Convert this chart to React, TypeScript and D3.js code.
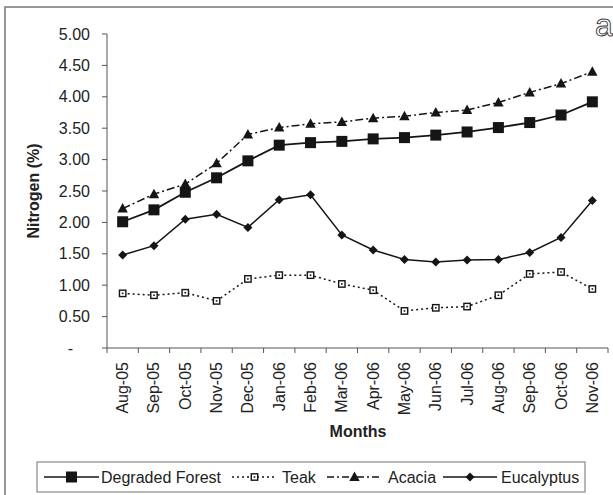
import React from "react";
import * as d3 from "d3";

const months = ["Aug-05","Sep-05","Oct-05","Nov-05","Dec-05","Jan-06","Feb-06","Mar-06","Apr-06","May-06","Jun-06","Jul-06","Aug-06","Sep-06","Oct-06","Nov-06"];
const degradedForest = [2.01,2.20,2.48,2.71,2.98,3.23,3.27,3.29,3.33,3.35,3.39,3.44,3.51,3.59,3.71,3.92];
const teak = [0.87,0.84,0.88,0.75,1.10,1.16,1.16,1.02,0.92,0.59,0.64,0.66,0.84,1.18,1.21,0.94];
const acacia = [2.22,2.45,2.61,2.94,3.40,3.51,3.57,3.60,3.66,3.69,3.75,3.79,3.91,4.07,4.21,4.40];
const eucalyptus = [1.48,1.63,2.05,2.13,1.92,2.36,2.44,1.80,1.56,1.41,1.37,1.40,1.41,1.52,1.76,2.35];
const yTicks = [0,0.5,1,1.5,2,2.5,3,3.5,4,4.5,5];
const seriesNames = ["Degraded Forest","Teak","Acacia","Eucalyptus"];

const FONT = "Arial, 'Liberation Sans', sans-serif";
const INK = "#151515";

type Kind = "square" | "open" | "triangle" | "diamond";

function Marker({ kind, x, y }: { kind: Kind; x: number; y: number }) {
  if (kind === "square") return <rect x={x - 5.5} y={y - 5.5} width={11} height={11} fill={INK} />;
  if (kind === "open")
    return (
      <g>
        <rect x={x - 3.2} y={y - 3.2} width={6.4} height={6.4} fill="#fff" stroke={INK} strokeWidth={1.4} />
        <rect x={x - 0.8} y={y - 0.8} width={1.6} height={1.6} fill={INK} />
      </g>
    );
  if (kind === "triangle")
    return <path d={`M${x},${y - 5.5}L${x + 5.2},${y + 4}L${x - 5.2},${y + 4}Z`} fill={INK} />;
  return <path d={`M${x},${y - 4.5}L${x + 4.5},${y}L${x},${y + 4.5}L${x - 4.5},${y}Z`} fill={INK} />;
}

export default function App() {
  const x = d3.scaleBand<string>().domain(months).range([107, 608]);
  const y = d3.scaleLinear().domain([0, 5]).range([348, 34]);
  const cx = (m: string) => (x(m) as number) + x.bandwidth() / 2;
  const line = d3.line<number>().x((_, i) => cx(months[i])).y((v) => y(v));

  const series: { name: string; data: number[]; kind: Kind; dash?: string; width: number }[] = [
    { name: seriesNames[1], data: teak, kind: "open", dash: "2,3", width: 1.5 },
    { name: seriesNames[3], data: eucalyptus, kind: "diamond", width: 1.5 },
    { name: seriesNames[2], data: acacia, kind: "triangle", dash: "8,3,2,3", width: 1.5 },
    { name: seriesNames[0], data: degradedForest, kind: "square", width: 1.8 },
  ];

  const legend: { name: string; kind: Kind; dash?: string; x0: number; x1: number; tx: number; width: number }[] = [
    { name: seriesNames[0], kind: "square", x0: 44, x1: 99, tx: 101, width: 1.5 },
    { name: seriesNames[1], kind: "open", dash: "2,3", x0: 232, x1: 277, tx: 282, width: 1.3 },
    { name: seriesNames[2], kind: "triangle", dash: "7,3,2,3", x0: 327, x1: 382, tx: 388, width: 1.3 },
    { name: seriesNames[3], kind: "diamond", x0: 443, x1: 497, tx: 501, width: 1.5 },
  ];

  const boundaries = months.map((m) => x(m) as number).concat([608]);

  return (
    <svg
      width={613}
      height={495}
      style={{ position: "absolute", left: 0, top: 0, background: "#fff" }}
      fontFamily={FONT}
    >
      <rect x={5} y={7} width={640} height={520} fill="#fff" stroke="#777" strokeWidth={1.5} />
      <text x={595} y={36} fontSize={32} fill="#fff" stroke="#333" strokeWidth={0.9}>a</text>

      {/* y axis */}
      <line x1={107} x2={107} y1={y(5)} y2={y(0)} stroke="#555" strokeWidth={1} />
      {yTicks.map((t) => (
        <g key={t}>
          <line x1={102} x2={107} y1={y(t)} y2={y(t)} stroke="#555" strokeWidth={1} />
          {t === 0 ? (
            <text x={73} y={y(t) + 5.5} textAnchor="end" fontSize={16} fill="#222">-</text>
          ) : (
            <text x={90} y={y(t) + 5.5} textAnchor="end" fontSize={16} fill="#222">
              {d3.format(".2f")(t)}
            </text>
          )}
        </g>
      ))}
      <text
        transform={`translate(39,${(y(0) + y(5)) / 2}) rotate(-90)`}
        textAnchor="middle"
        fontSize={16}
        fontWeight="bold"
        fill="#222"
      >
        Nitrogen (%)
      </text>

      {/* x axis */}
      <line x1={107} x2={608} y1={y(0)} y2={y(0)} stroke="#555" strokeWidth={1} />
      {boundaries.map((b, i) => (
        <line key={i} x1={b} x2={b} y1={y(0)} y2={y(0) + 5} stroke="#555" strokeWidth={1} />
      ))}
      {months.map((m) => (
        <text
          key={m}
          transform={`translate(${cx(m) + 5.5},362) rotate(-90)`}
          textAnchor="end"
          fontSize={16}
          fill="#222"
        >
          {m}
        </text>
      ))}
      <text x={358} y={437} textAnchor="middle" fontSize={16} fontWeight="bold" fill="#222">
        Months
      </text>

      {/* series */}
      {series.map((s) => (
        <g key={s.name}>
          <path d={line(s.data) || ""} fill="none" stroke={INK} strokeWidth={s.width} strokeDasharray={s.dash} />
          {s.data.map((v, i) => (
            <Marker key={i} kind={s.kind} x={cx(months[i])} y={y(v)} />
          ))}
        </g>
      ))}

      {/* legend */}
      <rect x={37} y={462} width={548} height={30} fill="#fff" stroke="#888" strokeWidth={1.2} />
      {legend.map((l) => (
        <g key={l.name}>
          <line x1={l.x0} x2={l.x1} y1={477} y2={477} stroke={INK} strokeWidth={l.width} strokeDasharray={l.dash} />
          <Marker kind={l.kind} x={(l.x0 + l.x1) / 2} y={477} />
          <text x={l.tx} y={483} fontSize={16} fill="#222">{l.name}</text>
        </g>
      ))}
    </svg>
  );
}
